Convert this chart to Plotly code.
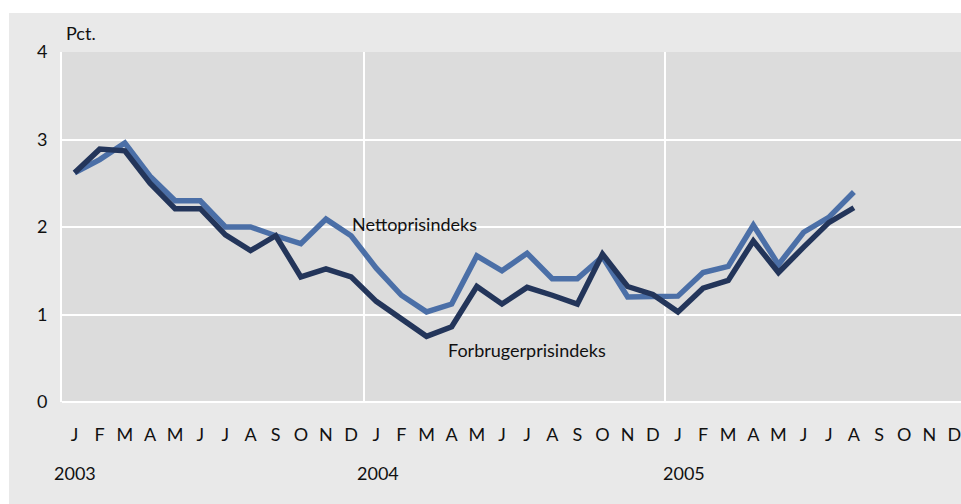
import plotly.graph_objects as go

months = ["J", "F", "M", "A", "M", "J", "J", "A", "S", "O", "N", "D"] * 3
years = ["2003", "2004", "2005"]

netto = [2.62, 2.77, 2.96, 2.58, 2.30, 2.30, 2.00, 2.00, 1.90, 1.81, 2.09, 1.90,
         1.53, 1.22, 1.03, 1.12, 1.67, 1.50, 1.70, 1.41, 1.41, 1.66, 1.20, 1.20,
         1.21, 1.48, 1.55, 2.02, 1.57, 1.94, 2.11, 2.40]
forbruger = [2.62, 2.89, 2.87, 2.50, 2.21, 2.21, 1.91, 1.73, 1.90, 1.43, 1.52, 1.43,
             1.15, 0.945, 0.75, 0.86, 1.32, 1.12, 1.31, 1.22, 1.12, 1.69, 1.32, 1.23,
             1.03, 1.30, 1.39, 1.84, 1.48, 1.77, 2.05, 2.22]

idx_netto = list(range(len(netto)))
idx_forb = list(range(len(forbruger)))

FONT = "Lato, Open Sans, sans-serif"
FS = 18
BLUE = "#4b6fa7"
NAVY = "#23355a"

fig = go.Figure()
fig.add_trace(go.Scatter(x=idx_netto, y=netto, mode="lines",
                         line=dict(color=BLUE, width=5.5), name="Nettoprisindeks",
                         hoverinfo="skip"))
fig.add_trace(go.Scatter(x=idx_forb, y=forbruger, mode="lines",
                         line=dict(color=NAVY, width=5.5), name="Forbrugerprisindeks",
                         hoverinfo="skip"))
# invisible trace to activate xaxis2 (year separators)
fig.add_trace(go.Scatter(x=[0], y=[0], xaxis="x2", mode="markers",
                         marker=dict(opacity=0), showlegend=False, hoverinfo="skip"))

xr = [-0.5, 35.26]
fig.update_layout(
    width=961, height=504,
    margin=dict(l=62, r=0, t=52, b=102),
    paper_bgcolor="#e9e9e9",
    plot_bgcolor="#dcdcdc",
    showlegend=False,
    font=dict(family=FONT, size=FS, color="#111111"),
    xaxis=dict(range=xr, tickmode="array", tickvals=list(range(36)), ticktext=months,
               showgrid=False, zeroline=False, showline=False, ticks="",
               ticklabelstandoff=20, ticklabeloverflow="allow", tickfont=dict(size=FS)),
    xaxis2=dict(range=xr, overlaying="x", tickmode="array", tickvals=[11.5, 23.5],
                showgrid=True, gridcolor="white", gridwidth=2, showticklabels=False,
                zeroline=False, ticks=""),
    yaxis=dict(range=[0, 4], tickmode="array", tickvals=[0, 1, 2, 3, 4],
               showgrid=True, gridcolor="white", gridwidth=2,
               zeroline=True, zerolinecolor="white", zerolinewidth=2,
               showline=True, linecolor="white", linewidth=2,
               ticks="", ticklabelstandoff=9, tickfont=dict(size=FS)),
)

# white outer strips (top and left) outside the gray panel
fig.add_shape(type="rect", xref="paper", yref="paper", x0=-0.08, x1=1.02,
              y0=(402 - 13) / 350, y1=1.2, fillcolor="white", line_width=0, layer="above")
fig.add_shape(type="rect", xref="paper", yref="paper", x0=-0.08, x1=(9 - 62) / 899,
              y0=-0.35, y1=1.2, fillcolor="white", line_width=0, layer="above")

fig.add_annotation(text="Pct.", xref="paper", yref="paper", x=0.002, y=(402 - 33) / 350,
                   xanchor="left", yanchor="middle", showarrow=False, font=dict(size=FS))
fig.add_annotation(text="Nettoprisindeks", x=10.97, y=2.03, xanchor="left", yanchor="middle",
                   showarrow=False, font=dict(size=FS))
fig.add_annotation(text="Forbrugerprisindeks", x=14.76, y=0.594, xanchor="left",
                   yanchor="middle", showarrow=False, font=dict(size=FS))

year_pos = [0, 12, 24]
year_shift = [0, 2, 6]
for yl, xp, xs in zip(years, year_pos, year_shift):
    fig.add_annotation(text=yl, x=xp, xref="x", yref="paper", y=(402 - 473) / 350,
                       xanchor="center", yanchor="middle", xshift=xs, showarrow=False,
                       font=dict(size=FS))

fig.write_html("out.html",
               config={"displayModeBar": False, "staticPlot": True},
               post_script="document.body.style.margin='0';document.body.style.overflow='hidden';")
